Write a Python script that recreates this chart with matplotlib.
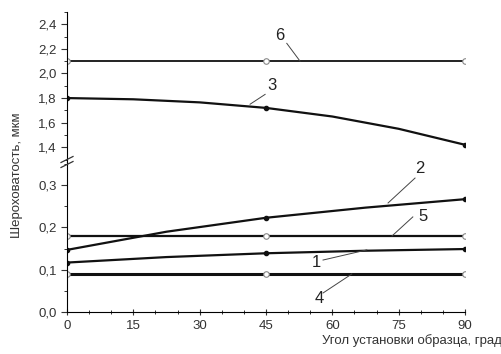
import matplotlib as mpl
mpl.use('Agg')
import matplotlib.pyplot as plt
from matplotlib.ticker import MultipleLocator, FuncFormatter

plt.rcParams['font.family'] = ['Liberation Sans', 'DejaVu Sans']

# angle of the sample, degrees
angle = [0, 45, 90]
# curve 3 read along its length (smooth curve)
angle3 = [0, 15, 30, 45, 60, 75, 90]
r3 = [1.80, 1.79, 1.765, 1.72, 1.65, 1.55, 1.42]
r6 = [2.10, 2.10, 2.10]
angle2 = [0, 22.5, 45, 67.5, 90]
r2 = [0.147, 0.190, 0.223, 0.247, 0.267]
r5 = [0.18, 0.18, 0.18]
angle1 = [0, 22.5, 45, 67.5, 90]
r1 = [0.117, 0.130, 0.139, 0.145, 0.149]
r4 = [0.09, 0.09, 0.09]

xticks = [0, 15, 30, 45, 60, 75, 90]

fig = plt.figure(figsize=(5.02, 3.54), dpi=100)
L, R = 67 / 502, 465 / 502
ybot, ybrk, ytop = 1 - 312 / 354, 1 - 162 / 354, 1 - 12 / 354
ax_lo = fig.add_axes([L, ybot, R - L, ybrk - ybot])
ax_hi = fig.add_axes([L, ybrk, R - L, ytop - ybrk])

lc = '#111111'
open_kw = dict(marker='o', ms=4, mfc='white', mec='#888888', mew=0.8)

# top part
ax_hi.plot(angle, r6, color='#222222', lw=1.4, **open_kw)
ax_hi.plot(angle3, r3, color=lc, lw=1.6)
ax_hi.plot(angle, [r3[0], r3[3], r3[6]], ls='none', marker='o', ms=3, color=lc)

# bottom part
ax_lo.plot(angle2, r2, color=lc, lw=1.6)
ax_lo.plot(angle, [r2[0], r2[2], r2[4]], ls='none', marker='o', ms=3, color=lc)
ax_lo.plot(angle, r5, color=lc, lw=1.6, **open_kw)
ax_lo.plot(angle1, r1, color=lc, lw=1.6)
ax_lo.plot(angle, [r1[0], r1[2], r1[4]], ls='none', marker='o', ms=3, color=lc)
ax_lo.plot(angle, r4, color=lc, lw=2.2, **open_kw)

ax_hi.set_ylim(1.28, 2.5)
ax_lo.set_ylim(0, 0.355)
for ax in (ax_hi, ax_lo):
    ax.set_xlim(0, 90)
    ax.spines['top'].set_visible(False)
    ax.spines['right'].set_visible(False)
    ax.patch.set_alpha(0)
    ax.tick_params(labelsize=9.5, length=4, width=0.8, color='#333333', labelcolor='#333333')
    ax.tick_params(which='minor', length=2.5, width=0.7, color='#333333')
    ax.yaxis.set_major_formatter(FuncFormatter(lambda v, p: ('%.1f' % v).replace('.', ',')))

ax_hi.spines['bottom'].set_visible(False)
ax_hi.tick_params(axis='x', which='both', bottom=False, labelbottom=False)
ax_hi.set_yticks([1.4, 1.6, 1.8, 2.0, 2.2, 2.4])
ax_hi.yaxis.set_minor_locator(MultipleLocator(0.1))

ax_lo.set_yticks([0.0, 0.1, 0.2, 0.3])
ax_lo.yaxis.set_minor_locator(MultipleLocator(0.05))
ax_lo.set_xticks(xticks)
ax_lo.xaxis.set_minor_locator(MultipleLocator(5))
ax_lo.tick_params(axis='x', which='both', direction='inout')

# break mark on the y axis
for dy in (-2.5, 2.5):
    fig.add_artist(plt.Line2D([(67 - 6) / 502, (67 + 6) / 502],
                              [(192 - 3 + dy) / 354, (192 + 3 + dy) / 354],
                              transform=fig.transFigure, color='#333333', lw=0.9))


# curve labels with leader lines (data coords)
def tag(ax, txt, pos, p0, p1):
    ax.text(pos[0], pos[1], txt, fontsize=12, color='#222222', ha='center', va='center')
    ax.plot([p0[0], p1[0]], [p0[1], p1[1]], color='#444444', lw=0.7)


tag(ax_hi, '6', (48.2, 2.31), (49.7, 2.245), (52.7, 2.10))
tag(ax_hi, '3', (46.4, 1.90), (44.8, 1.83), (41.4, 1.75))
tag(ax_lo, '2', (79.8, 0.340), (78.7, 0.317), (72.6, 0.258))
tag(ax_lo, '5', (80.5, 0.225), (78.2, 0.225), (73.5, 0.180))
tag(ax_lo, '1', (56.5, 0.118), (57.9, 0.123), (67.8, 0.147))
tag(ax_lo, '4', (57.0, 0.033), (57.9, 0.045), (64.4, 0.090))

fig.text(17 / 502, 1 - 175 / 354, 'Шероховатость, мкм', rotation=90,
         ha='center', va='center', fontsize=9.5, color='#333333')
fig.text(1.0, 1 - 341 / 354, 'Угол установки образца, град', ha='right',
         va='center', fontsize=9.5, color='#333333')

fig.savefig('out.png', dpi=100)
